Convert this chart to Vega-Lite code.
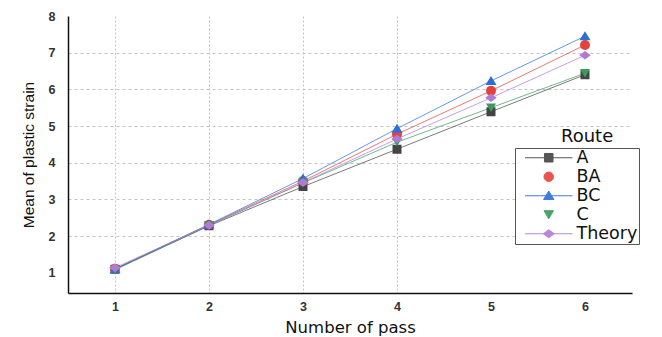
{
  "$schema": "https://vega.github.io/schema/vega-lite/v6.json",
  "width": 564,
  "height": 277,
  "autosize": "none",
  "padding": {"left": 68, "top": 16, "right": 30, "bottom": 44},
  "background": "white",
  "config": {
    "view": {"stroke": null},
    "font": "Liberation Sans"
  },
  "data": {
    "values": [
      {"pass": 1, "route": "A", "strain": 1.10},
      {"pass": 2, "route": "A", "strain": 2.28},
      {"pass": 3, "route": "A", "strain": 3.35},
      {"pass": 4, "route": "A", "strain": 4.37},
      {"pass": 5, "route": "A", "strain": 5.39},
      {"pass": 6, "route": "A", "strain": 6.40},
      {"pass": 1, "route": "BA", "strain": 1.11},
      {"pass": 2, "route": "BA", "strain": 2.31},
      {"pass": 3, "route": "BA", "strain": 3.50},
      {"pass": 4, "route": "BA", "strain": 4.78},
      {"pass": 5, "route": "BA", "strain": 5.96},
      {"pass": 6, "route": "BA", "strain": 7.21},
      {"pass": 1, "route": "BC", "strain": 1.10},
      {"pass": 2, "route": "BC", "strain": 2.32},
      {"pass": 3, "route": "BC", "strain": 3.57},
      {"pass": 4, "route": "BC", "strain": 4.93},
      {"pass": 5, "route": "BC", "strain": 6.23},
      {"pass": 6, "route": "BC", "strain": 7.45},
      {"pass": 1, "route": "C", "strain": 1.08},
      {"pass": 2, "route": "C", "strain": 2.29},
      {"pass": 3, "route": "C", "strain": 3.45},
      {"pass": 4, "route": "C", "strain": 4.56},
      {"pass": 5, "route": "C", "strain": 5.50},
      {"pass": 6, "route": "C", "strain": 6.44},
      {"pass": 1, "route": "Theory", "strain": 1.14},
      {"pass": 2, "route": "Theory", "strain": 2.30},
      {"pass": 3, "route": "Theory", "strain": 3.46},
      {"pass": 4, "route": "Theory", "strain": 4.65},
      {"pass": 5, "route": "Theory", "strain": 5.77},
      {"pass": 6, "route": "Theory", "strain": 6.93}
    ]
  },
  "encoding": {
    "x": {
      "field": "pass",
      "type": "quantitative",
      "scale": {"domain": [0.5, 6.5], "nice": false, "zero": false},
      "axis": {
        "title": "Number of pass",
        "values": [1, 2, 3, 4, 5, 6],
        "format": "d",
        "domainColor": "#111",
        "domainWidth": 1.5,
        "ticks": false,
        "labelFontSize": 12.5,
        "labelFontWeight": "bold",
        "labelColor": "#333",
        "labelPadding": 7,
        "titleFont": "DejaVu Sans",
        "titleFontSize": 16.5,
        "titleFontWeight": "normal",
        "titleColor": "#111",
        "titlePadding": 7,
        "grid": true,
        "gridColor": "#c4c4c4",
        "gridDash": [2, 2],
        "gridWidth": 1,
        "gridOpacity": {"condition": {"test": "datum.value > 4", "value": 0}, "value": 1}
      }
    },
    "y": {
      "field": "strain",
      "type": "quantitative",
      "scale": {"domain": [0.45, 8], "nice": false, "zero": false},
      "axis": {
        "title": "Mean of plastic strain",
        "values": [1, 2, 3, 4, 5, 6, 7, 8],
        "format": "d",
        "domainColor": "#111",
        "domainWidth": 1.5,
        "ticks": false,
        "labelFontSize": 12.5,
        "labelFontWeight": "bold",
        "labelColor": "#333",
        "labelPadding": 13,
        "titleFontSize": 15.5,
        "titleFontWeight": "normal",
        "titleColor": "#111",
        "titlePadding": 12,
        "grid": true,
        "gridColor": "#c4c4c4",
        "gridDash": [3, 3],
        "gridWidth": 1,
        "gridOpacity": {"condition": {"test": "datum.value < 2 || datum.value > 7", "value": 0}, "value": 1}
      }
    },
    "fill": {"field": "route", "type": "nominal",
      "scale": {"domain": ["A", "BA", "BC", "C", "Theory"], "range": ["#444444", "#e8413c", "#2b6fd8", "#3a9a60", "#b07bd6"]},
      "legend": {
        "title": null,
        "orient": "none",
        "legendX": 447,
        "legendY": 132,
        "direction": "vertical",
        "fillColor": "white",
        "strokeColor": "#555",
        "padding": 1,
        "labelFont": "DejaVu Sans",
        "labelFontSize": 17.5,
        "labelColor": "#111",
        "labelOffset": 19,
        "symbolSize": 90,
        "symbolStrokeWidth": 1,
        "rowPadding": 0,
        "symbolOffset": 24
      }
    },
    "stroke": {"field": "route", "type": "nominal",
      "scale": {"domain": ["A", "BA", "BC", "C", "Theory"], "range": ["#444444", "#e8413c", "#2b6fd8", "#3a9a60", "#b07bd6"]}
    }
  },
  "layer": [
    {
      "mark": {"type": "line", "strokeWidth": 0.8, "opacity": 0.9},
      "encoding": {
        "fill": {"value": null},
        "detail": {"field": "route"}
      }
    },
    {
      "mark": {"type": "point", "filled": true, "strokeWidth": 0, "size": 100},
      "encoding": {
        "shape": {"field": "route", "type": "nominal",
          "scale": {"domain": ["A", "BA", "BC", "C", "Theory"],
            "range": [
              "M-5,0H5M-0.9,-0.9H0.9V0.9H-0.9Z",
              "circle",
              "M-5,0H5M0,-1L1.1,0.8H-1.1Z",
              "triangle-down",
              "M-5,0H5M0,-0.85L1.15,0L0,0.85L-1.15,0Z"
            ]}
        },
        "opacity": {"field": "pass", "type": "quantitative",
          "scale": {"domain": [1, 6], "range": [1, 1]},
          "legend": {
            "title": "Route",
            "orient": "none",
            "legendX": 493,
            "legendY": 112,
            "values": [],
            "padding": 0,
            "titleFont": "DejaVu Sans",
            "titleFontSize": 18,
            "titleFontWeight": "normal",
            "titleColor": "#111"
          }
        }
      }
    }
  ]
}
